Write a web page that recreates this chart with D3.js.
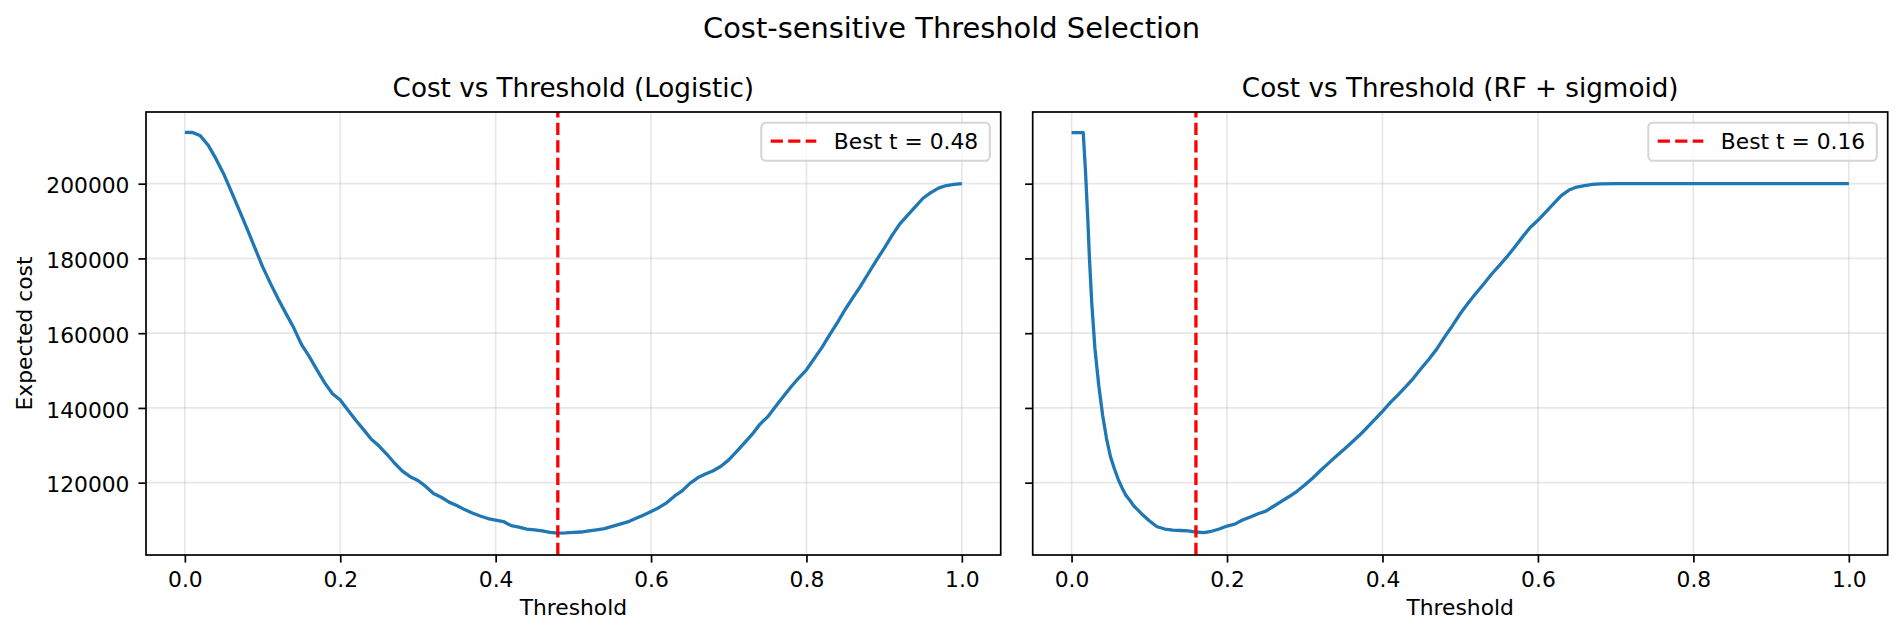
<!DOCTYPE html>
<html>
<head>
<meta charset="utf-8">
<script src="https://cdn.jsdelivr.net/npm/d3@7"></script>
<style>
    body { margin: 0; background: #fff; }
    svg { display: block; font-family: "DejaVu Sans", sans-serif; }
</style>
</head>
<body>
<svg id="drawing_region"></svg>
<script>
// expected cost per threshold
const logisticThreshold = [
    0.00, 0.01, 0.02, 0.03, 0.04, 0.05, 0.06, 0.07, 0.08, 0.09,
    0.10, 0.11, 0.12, 0.13, 0.14, 0.15, 0.16, 0.17, 0.18, 0.19,
    0.20, 0.21, 0.22, 0.23, 0.24, 0.25, 0.26, 0.27, 0.28, 0.29,
    0.30, 0.31, 0.32, 0.33, 0.34, 0.35, 0.36, 0.37, 0.38, 0.39,
    0.40, 0.41, 0.42, 0.43, 0.44, 0.45, 0.46, 0.47, 0.48, 0.49,
    0.50, 0.51, 0.52, 0.53, 0.54, 0.55, 0.56, 0.57, 0.58, 0.59,
    0.60, 0.61, 0.62, 0.63, 0.64, 0.65, 0.66, 0.67, 0.68, 0.69,
    0.70, 0.71, 0.72, 0.73, 0.74, 0.75, 0.76, 0.77, 0.78, 0.79,
    0.80, 0.81, 0.82, 0.83, 0.84, 0.85, 0.86, 0.87, 0.88, 0.89,
    0.90, 0.91, 0.92, 0.93, 0.94, 0.95, 0.96, 0.97, 0.98, 0.99, 1.00
];
const logisticCost = [
    213750, 213700, 212800, 210300, 206700, 202600, 197800, 192900, 188000, 182900,
    177800, 173400, 169200, 165300, 161500, 157000, 153800, 150200, 146700, 143800,
    142100, 139400, 136700, 134200, 131600, 129800, 127600, 125200, 123100, 121600,
    120600, 119000, 117100, 116100, 114800, 113900, 112800, 111900, 111100, 110400,
    110000, 109600, 108500, 108100, 107600, 107400, 107100, 106700, 106500, 106550,
    106700, 106800, 107100, 107400, 107700, 108300, 108900, 109500, 110400, 111300,
    112300, 113300, 114600, 116400, 117800, 119800, 121300, 122300, 123200, 124400,
    126100, 128300, 130600, 132900, 135600, 137600, 140300, 143000, 145600, 148000,
    150200, 153200, 156200, 159600, 162900, 166400, 169600, 172700, 176100, 179500,
    182700, 186100, 189200, 191500, 193800, 196100, 197600, 198800, 199500, 199800, 200000
];

const rfThreshold = [
    0.000, 0.015, 0.018, 0.021, 0.023, 0.026, 0.030, 0.035, 0.040, 0.045,
    0.050, 0.055, 0.060, 0.065, 0.070, 0.075, 0.080, 0.090, 0.100, 0.110,
    0.120, 0.130, 0.140, 0.150, 0.160, 0.170, 0.180, 0.190, 0.200, 0.210,
    0.220, 0.230, 0.240, 0.250, 0.260, 0.270, 0.280, 0.290, 0.300, 0.310,
    0.320, 0.330, 0.340, 0.350, 0.360, 0.370, 0.380, 0.390, 0.400, 0.410,
    0.420, 0.430, 0.440, 0.450, 0.460, 0.470, 0.480, 0.490, 0.500, 0.510,
    0.520, 0.530, 0.540, 0.550, 0.560, 0.570, 0.580, 0.590, 0.600, 0.610,
    0.620, 0.630, 0.640, 0.650, 0.660, 0.670, 0.680, 0.700, 0.800, 0.900, 1.000
];
const rfCost = [
    213650, 213650, 203000, 190000, 180000, 168000, 156000, 146000, 138000, 131800,
    127000, 123800, 120900, 118600, 116600, 115300, 113800, 111700, 109800, 108200,
    107600, 107300, 107200, 107100, 106800, 106650, 107000, 107600, 108400, 108900,
    110000, 110800, 111700, 112400, 113700, 115000, 116300, 117700, 119400, 121200,
    123200, 125100, 127000, 128800, 130700, 132600, 134700, 136900, 139100, 141400,
    143500, 145700, 148000, 150600, 153100, 155800, 159000, 162000, 165200, 168000,
    170600, 173100, 175700, 178000, 180400, 183000, 185700, 188300, 190200, 192400,
    194600, 196800, 198300, 199100, 199500, 199800, 199950, 200000, 200000, 200000, 200000
];

const bestThreshold = [0.48, 0.16];
const panelTitles = ['Cost vs Threshold (Logistic)', 'Cost vs Threshold (RF + sigmoid)'];
const xTicks = [0.0, 0.2, 0.4, 0.6, 0.8, 1.0];
const yTicks = [120000, 140000, 160000, 180000, 200000];
const xExtent = [-0.05, 1.05];
const yExtent = [100650, 219180];   // shared y axis

const svg = d3.select('#drawing_region')
    .attr('width', 1903)
    .attr('height', 635);

svg.append('text')
    .attr('x', 951.5)
    .attr('y', 37.5)
    .attr('text-anchor', 'middle')
    .attr('font-size', 28.9)
    .text('Cost-sensitive Threshold Selection');

class CostPlot {

    constructor( config, xs, ys ) {
        this.config = config;
        this.data = xs.map( (x, i) => ({x: x, y: ys[i]}) );
        this.init();
    }

    init() {
        let self = this;
        const c = self.config;

        self.chart = svg.append('g')
            .attr('transform', `translate(${c.left}, ${c.top})`);

        self.xscale = d3.scaleLinear()
            .domain( xExtent )
            .range( [0, c.width] );

        self.yscale = d3.scaleLinear()
            .domain( yExtent )
            .range( [c.height, 0] );

        self.xaxis = d3.axisBottom( self.xscale )
            .tickValues( xTicks )
            .tickSize( 7.6 )
            .tickFormat( d3.format('.1f') );

        self.yaxis = d3.axisLeft( self.yscale )
            .tickValues( yTicks )
            .tickSize( 7.6 )
            .tickFormat( c.yLabels ? d3.format('d') : () => '' );
    }

    render() {
        let self = this;
        const c = self.config;

        // grid
        self.chart.selectAll('.vgrid')
            .data( xTicks )
            .enter()
            .append('line')
            .attr('x1', d => self.xscale(d))
            .attr('x2', d => self.xscale(d))
            .attr('y1', 0)
            .attr('y2', c.height)
            .attr('stroke', '#b0b0b0')
            .attr('stroke-opacity', 0.3)
            .attr('stroke-width', 1.7);

        self.chart.selectAll('.hgrid')
            .data( yTicks )
            .enter()
            .append('line')
            .attr('x1', 0)
            .attr('x2', c.width)
            .attr('y1', d => self.yscale(d))
            .attr('y2', d => self.yscale(d))
            .attr('stroke', '#b0b0b0')
            .attr('stroke-opacity', 0.3)
            .attr('stroke-width', 1.7);

        const line = d3.line()
            .x( d => self.xscale(d.x) )
            .y( d => self.yscale(d.y) );

        self.chart.append('path')
            .datum( self.data )
            .attr('d', line)
            .attr('fill', 'none')
            .attr('stroke', '#1f77b4')
            .attr('stroke-width', 3.3)
            .attr('stroke-linejoin', 'round');

        // best threshold
        self.chart.append('line')
            .attr('x1', self.xscale(c.best))
            .attr('x2', self.xscale(c.best))
            .attr('y1', c.height)
            .attr('y2', 0)
            .attr('stroke', '#ff0000')
            .attr('stroke-width', 3.3)
            .attr('stroke-dasharray', '12.2,5.3');

        // axes
        const xg = self.chart.append('g')
            .attr('transform', `translate(0, ${c.height})`)
            .call( self.xaxis );
        const yg = self.chart.append('g')
            .call( self.yaxis );

        [xg, yg].forEach( g => {
            g.select('.domain').remove();
            g.selectAll('.tick line').attr('stroke', '#000').attr('stroke-width', 1.7);
            g.selectAll('.tick text')
                .attr('fill', '#000')
                .attr('font-size', 21.8)
                .attr('font-family', '"DejaVu Sans", sans-serif');
        });
        xg.selectAll('.tick text').attr('y', 32).attr('dy', null);
        yg.selectAll('.tick text').attr('x', -16.5).attr('dy', '0.42em');

        // spines
        self.chart.append('rect')
            .attr('width', c.width)
            .attr('height', c.height)
            .attr('fill', 'none')
            .attr('stroke', '#000')
            .attr('stroke-width', 1.7);

        self.chart.append('text')
            .attr('x', c.width/2)
            .attr('y', -14.7)
            .attr('text-anchor', 'middle')
            .attr('font-size', 26.2)
            .text( c.title );

        self.chart.append('text')
            .attr('x', c.width/2)
            .attr('y', c.height + 60)
            .attr('text-anchor', 'middle')
            .attr('font-size', 21.8)
            .text('Threshold');

        if ( c.yLabels ) {
            self.chart.append('text')
                .attr('transform', `translate(${32 - c.left}, ${c.height/2}) rotate(-90)`)
                .attr('text-anchor', 'middle')
                .attr('font-size', 21.8)
                .text('Expected cost');
        }

        // legend
        const lw = 228.5, lh = 38;
        const legend = self.chart.append('g')
            .attr('transform', `translate(${c.width - 10.9 - lw}, 10.7)`);
        legend.append('rect')
            .attr('width', lw)
            .attr('height', lh)
            .attr('rx', 4.4)
            .attr('fill', '#fff')
            .attr('fill-opacity', 0.8)
            .attr('stroke', '#cccccc')
            .attr('stroke-opacity', 0.8)
            .attr('stroke-width', 2.1);
        legend.append('line')
            .attr('x1', 9.4)
            .attr('x2', 55)
            .attr('y1', 18.5)
            .attr('y2', 18.5)
            .attr('stroke', '#ff0000')
            .attr('stroke-width', 3.3)
            .attr('stroke-dasharray', '12.2,5.3');
        legend.append('text')
            .attr('x', 72.5)
            .attr('y', 26.3)
            .attr('font-size', 21.8)
            .text( `Best t = ${c.best.toFixed(2)}` );
    }
}

const leftPlot = new CostPlot( {
    left: 146, top: 112, width: 854.7, height: 443,
    title: panelTitles[0], best: bestThreshold[0], yLabels: true
}, logisticThreshold, logisticCost );
leftPlot.render();

const rightPlot = new CostPlot( {
    left: 1032.7, top: 112, width: 855, height: 443,
    title: panelTitles[1], best: bestThreshold[1], yLabels: false
}, rfThreshold, rfCost );
rightPlot.render();
</script>
</body>
</html>
